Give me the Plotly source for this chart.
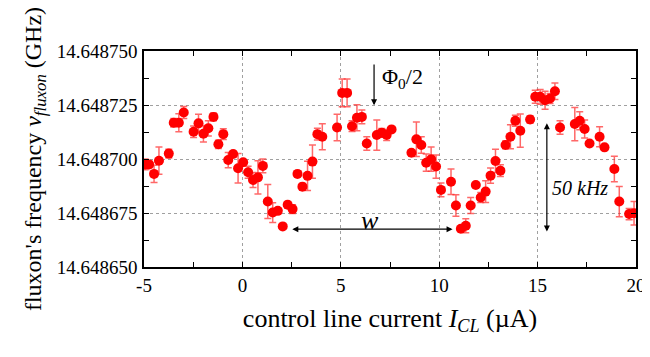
import plotly.graph_objects as go

# control line current (uA)
current_uA = [-4.94, -4.74, -4.49, -4.24, -3.74, -3.49, -3.23, -2.98, -2.48, -2.23,
              -1.98, -1.73, -1.47, -1.22, -0.97, -0.72, -0.47, -0.22, 0.04, 0.29,
              0.54, 0.79, 1.04, 1.29, 1.54, 1.80, 2.05, 2.30, 2.55, 2.80,
              3.05, 3.31, 3.56, 3.81, 4.06, 4.81, 5.07, 5.32, 5.57, 5.82,
              6.07, 6.32, 6.83, 7.08, 7.33, 7.58, 8.59, 8.84, 9.09, 9.34,
              9.59, 9.84, 10.09, 10.60, 10.85, 11.10, 11.35, 11.60, 11.86, 12.11,
              12.36, 12.61, 12.86, 13.11, 13.37, 13.62, 13.87, 14.12, 14.62, 14.88,
              15.13, 15.38, 15.63, 15.88, 16.14, 16.89, 17.14, 17.39, 17.64, 18.15,
              18.40, 18.90, 19.15, 19.65, 19.90]

# frequency offset from 14.648700 GHz, in kHz
base_GHz = 14.648700
offset_kHz = [-2.5, -2.5, -6.9, -0.8, 2.5, 16.8, 16.8, 21.5, 12.6, 16.5,
              11.7, 14.2, 19.5, 6.8, 11.5, -0.5, 2.3, -4.3, -1.5, -6.1,
              -9.7, -8.5, -3.2, -19.7, -24.8, -24.0, -31.2, -21.2, -23.2, -6.9,
              -12.8, -7.8, -1.2, 11.5, 10.3, 14.6, 30.6, 30.6, 15.2, 19.1,
              19.5, 7.2, 11.1, 12.1, 11.1, 13.7, 2.9, 9.1, 6.5, -1.7,
              -0.1, -3.5, -14.3, -10.5, -21.5, -32.3, -30.9, -21.5, -12.0, -17.8,
              -15.1, -7.7, -0.9, -5.4, 6.5, 10.3, 17.7, 13.1, 18.3, 28.8,
              28.8, 27.2, 28.0, 31.4, 14.6, 16.2, 17.7, 13.9, 7.2, 10.3,
              5.4, -4.6, -19.7, -25.5, -25.1]

error_kHz = [2.5, 1.5, 4.0, 6.3, 2.0, 2.0, 4.2, 2.8, 2.7, 4.2,
             3.8, 3.5, 1.8, 1.9, 2.5, 3.5, 1.2, 6.8, 1.2, 2.8,
             3.5, 7.7, 3.2, 7.9, 4.6, 1.0, 0.0, 1.5, 2.0, 0.5,
             1.5, 6.8, 7.7, 2.7, 6.0, 6.1, 6.4, 6.4, 2.5, 6.0,
             3.2, 3.1, 7.0, 2.0, 2.5, 1.0, 1.0, 8.0, 3.8, 4.0,
             5.6, 5.4, 3.2, 5.9, 5.0, 0.5, 3.2, 3.7, 1.0, 2.3,
             5.0, 3.5, 5.4, 2.7, 1.8, 5.6, 2.5, 7.7, 1.7, 3.0,
             3.4, 4.2, 2.3, 3.8, 3.1, 7.7, 4.2, 4.2, 1.0, 4.6,
             1.0, 5.9, 7.0, 2.6, 5.4]

y_ticks_GHz = [14.648650, 14.648675, 14.648700, 14.648725, 14.648750]
x_ticks = [-5, 0, 5, 10, 15, 20]

freq_GHz = [base_GHz + d * 1e-6 for d in offset_kHz]
err_GHz = [e * 1e-6 for e in error_kHz]

SERIF = "Liberation Serif"

fig = go.Figure()
fig.add_trace(go.Scatter(
    x=current_uA, y=freq_GHz, mode="markers",
    marker=dict(color="#ff0000", size=10, line=dict(width=0)),
    error_y=dict(type="data", array=err_GHz, visible=True,
                 color="rgba(255,40,40,0.7)", thickness=1.5, width=3.5),
    showlegend=False,
))

def k2g(d):
    return base_GHz + d * 1e-6

annotations = [
    # Phi0/2 arrow
    dict(x=6.69, y=k2g(24.9), ax=6.69, ay=k2g(44.5), xref="x", yref="y",
         axref="x", ayref="y", showarrow=True, arrowhead=2, arrowsize=1,
         arrowwidth=1.2, arrowcolor="black", text=""),
    dict(x=7.0, y=k2g(37.5), xref="x", yref="y", xanchor="left", yanchor="middle",
         showarrow=False, text="Φ<sub>0</sub>/2",
         font=dict(family=SERIF, size=22, color="black")),
    # w double arrow
    dict(x=10.68, y=k2g(-32.5), ax=2.46, ay=k2g(-32.5), xref="x", yref="y",
         axref="x", ayref="y", showarrow=True, arrowhead=2, startarrowhead=2,
         arrowside="end+start", arrowsize=1, arrowwidth=1.2, arrowcolor="black", text=""),
    dict(x=6.47, y=k2g(-28.5), xref="x", yref="y", xanchor="center", yanchor="middle",
         showarrow=False, text="<i>w</i>",
         font=dict(family=SERIF, size=26, color="black")),
    # 50 kHz double arrow
    dict(x=15.47, y=k2g(-33.6), ax=15.47, ay=k2g(17.2), xref="x", yref="y",
         axref="x", ayref="y", showarrow=True, arrowhead=2, startarrowhead=2,
         arrowside="end+start", arrowsize=1, arrowwidth=1.2, arrowcolor="black", text=""),
    dict(x=15.62, y=k2g(-13.4), xref="x", yref="y", xanchor="left", yanchor="middle",
         showarrow=False, text="<i>50 kHz</i>",
         font=dict(family=SERIF, size=20, color="black")),
]

axis_common = dict(
    showline=True, linecolor="black", linewidth=1.5, mirror="ticks",
    ticks="inside", ticklen=5, tickwidth=1.2, tickcolor="black",
    showgrid=True, gridcolor="#a0a0a0", griddash="dot", gridwidth=1,
    zeroline=False,
    tickfont=dict(family=SERIF, size=19, color="black"),
)

fig.update_layout(
    width=650, height=357,
    margin=dict(l=136, r=16, t=43, b=98),
    paper_bgcolor="white", plot_bgcolor="white",
    annotations=annotations,
    xaxis=dict(
        range=[-5, 20], tickvals=x_ticks, ticktext=[str(v) for v in x_ticks],
        minor=dict(dtick=2.5, tick0=-5, ticks="inside", ticklen=5, tickcolor="black",
                   showgrid=False),
        title=dict(text="control line current <i>I</i><sub><i>CL</i></sub> (µA)",
                   font=dict(family=SERIF, size=26, color="black"), standoff=14),
        **axis_common,
    ),
    yaxis=dict(
        range=[y_ticks_GHz[0], y_ticks_GHz[-1]], tickvals=y_ticks_GHz,
        ticktext=[f"{v:.6f}" for v in y_ticks_GHz],
        minor=dict(dtick=12.5e-6, tick0=y_ticks_GHz[0], ticks="inside", ticklen=5,
                   tickcolor="black", showgrid=False),
        title=dict(text="fluxon's frequency <i>ν</i><sub><i>fluxon</i></sub> (GHz)",
                   font=dict(family=SERIF, size=24, color="black"), standoff=8),
        ticklabelstandoff=1,
        **axis_common,
    ),
)

fig.write_html("out.html")
